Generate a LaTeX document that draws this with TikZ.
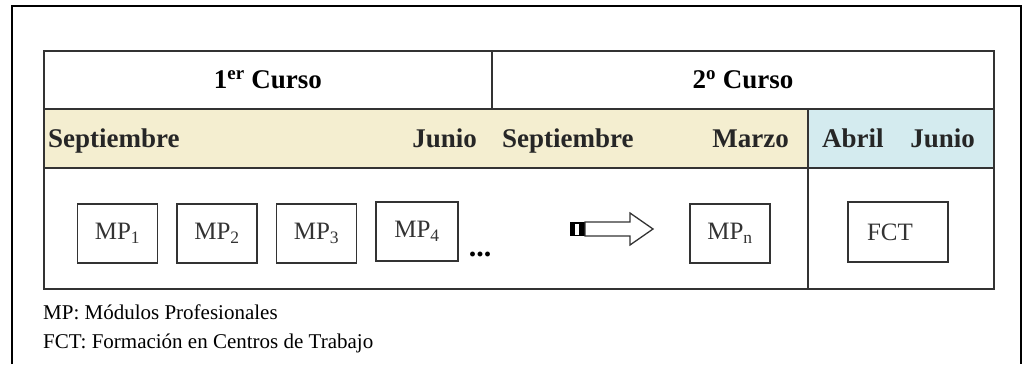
\documentclass[tikz,border=0pt]{standalone}
\usepackage{fontspec}
\setmainfont{Liberation Serif}
\usepackage{tikz}
\usetikzlibrary{positioning}
\definecolor{rule}{HTML}{333333}
\definecolor{wheat}{HTML}{F4EED0}
\definecolor{sky}{HTML}{D4EBEF}

\begin{document}
\begin{tikzpicture}[x=1pt,y=-1pt,node distance=18pt,
  cell/.style 2 args={draw=rule,line width=1.8pt,minimum width=#1,minimum height=#2,
    anchor=north west,inner sep=0pt,font=\bfseries\fontsize{27}{30}\selectfont},
  month/.style={inner sep=0pt,font=\bfseries\fontsize{27}{30}\selectfont,text=black!85},
  modbox/.style={draw=rule,line width=1.5pt,minimum width=80pt,minimum height=59pt,
    inner sep=0pt,font=\fontsize{25}{28}\selectfont,text=black!80},
  legend/.style={anchor=west,inner sep=0pt,font=\fontsize{21}{24}\selectfont}]
  \useasboundingbox (0,0) rectangle (1022,364);
  \draw[line width=1.3pt] (12,364) -- (12,6) -- (1021,6) -- (1021,364);
  % cursos
  \node[cell={448pt}{58pt}] (curso1) at (43,50) {1\textsuperscript{er} Curso};
  \node[cell={502pt}{58pt}] (curso2) at (491,50) {2\textsuperscript{o} Curso};
  % periodos
  \node[cell={764pt}{59pt},fill=wheat] (aula) at (43,108) {};
  \node[cell={186pt}{59pt},fill=sky] (empresa) at (807,108) {};
  \node[month,anchor=base west] (sep1) at (48,147) {Septiembre};
  \node[month,anchor=base east] (jun1) at (477,147) {Junio};
  \node[month,anchor=base west] (sep2) at (502,147) {Septiembre};
  \node[month,anchor=base east] (mar2) at (789,147) {Marzo};
  \node[month,anchor=base west] (abr2) at (822,147) {Abril};
  \node[month,anchor=base east] (jun2) at (975,147) {Junio};
  % modulos
  \node[cell={764pt}{121pt}] (mods) at (43,167) {};
  \node[cell={186pt}{121pt}] (prac) at (807,167) {};
  \node[modbox] (mp1) at (117.5,233.5) {MP\textsubscript{1}};
  \node[modbox,right=of mp1] (mp2) {MP\textsubscript{2}};
  \node[modbox,right=of mp2] (mp3) {MP\textsubscript{3}};
  \node[modbox,minimum width=82pt,right=of mp3,yshift=2pt] (mp4) {MP\textsubscript{4}};
  \node[inner sep=0pt,font=\bfseries\fontsize{30}{32}\selectfont] (dots) at (480,254) {...};
  \fill[black] (570,222) rectangle (585,236);
  \fill[white] (575,223.5) rectangle (578.5,234.5);
  \draw[rule,line width=1.3pt,fill=white] (585,222) -- (630,222) -- (630,213) -- (653,229)
    -- (630,245) -- (630,236) -- (585,236) -- cycle;
  \node[modbox] (mpn) at (730,233.5) {MP\textsubscript{n}};
  \node[modbox,minimum width=100pt,minimum height=60pt,text width=62pt,align=left] (fct) at (898,232) {FCT};
  % leyenda
  \node[legend] (legmp) at (43,312) {MP: Módulos Profesionales};
  \node[legend] (legfct) at (43,343) {FCT: Formación en Centros de Trabajo};
\end{tikzpicture}
\end{document}
